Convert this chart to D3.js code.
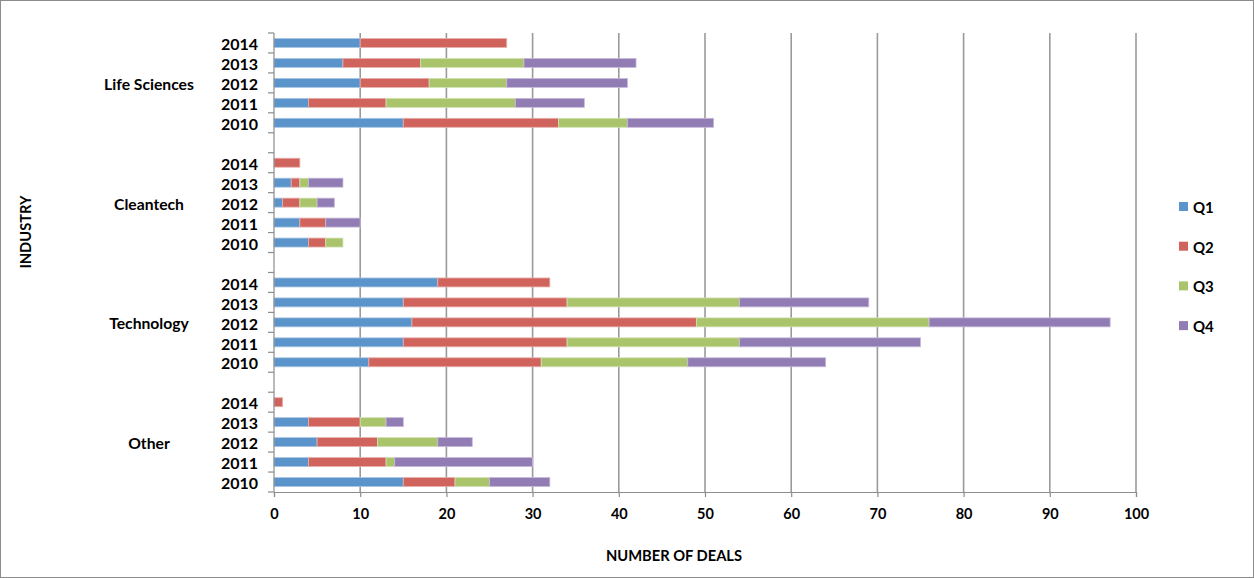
<!DOCTYPE html>
<html>
<head>
<meta charset="utf-8">
<script src="https://cdn.jsdelivr.net/npm/d3@7"></script>
<style>
  html, body { margin: 0; padding: 0; background: #fff; }
  svg { display: block; font-family: Lato, "Open Sans", sans-serif; }
</style>
</head>
<body>
<svg id="chart" width="1254" height="578"></svg>
<script>
// Industries, top to bottom, and the years listed within each group
const industries = ["Life Sciences", "Cleantech", "Technology", "Other"];
const years = ["2014", "2013", "2012", "2011", "2010"];
const quarters = ["Q1", "Q2", "Q3", "Q4"];
const xTicks = [0, 10, 20, 30, 40, 50, 60, 70, 80, 90, 100];

// Deals per quarter; each row follows the years order above
const q1 = [
  [10, 8, 10, 4, 15],
  [0, 2, 1, 3, 4],
  [19, 15, 16, 15, 11],
  [0, 4, 5, 4, 15]
];
const q2 = [
  [17, 9, 8, 9, 18],
  [3, 1, 2, 3, 2],
  [13, 19, 33, 19, 20],
  [1, 6, 7, 9, 6]
];
const q3 = [
  [0, 12, 9, 15, 8],
  [0, 1, 2, 0, 2],
  [0, 20, 27, 20, 17],
  [0, 3, 7, 1, 4]
];
const q4 = [
  [0, 13, 14, 8, 10],
  [0, 4, 2, 4, 0],
  [0, 15, 21, 21, 16],
  [0, 2, 4, 16, 7]
];

const colors = ["#5b94ca", "#d0645d", "#a9c46b", "#917cb3"];
const strokes = ["#a9c6e4", "#e8b0ad", "#d3e2b4", "#c6badb"];

const svg = d3.select("#chart");
const W = 1254, H = 578;
const plotLeft = 274, plotRight = 1136, plotTop = 33, plotBottom = 492;

// Outer frame
svg.append("rect")
  .attr("x", 0.5).attr("y", 0.5)
  .attr("width", W - 1).attr("height", H - 1)
  .attr("fill", "#fff").attr("stroke", "#8c8c8c").attr("stroke-width", 1);

// Build the row list: five years per industry, with a spacer between groups
const rows = [];
industries.forEach((ind, gi) => {
  years.forEach((yr, yi) => {
    rows.push({ key: ind + "|" + yr, industry: ind, year: yr, gi, yi,
      vals: [q1[gi][yi], q2[gi][yi], q3[gi][yi], q4[gi][yi]] });
  });
  if (gi < industries.length - 1) rows.push({ key: "gap" + gi, gap: true });
});

const x = d3.scaleLinear().domain([0, 100]).range([plotLeft, plotRight]);
const y = d3.scaleBand()
  .domain(rows.map(r => r.key))
  .range([plotTop, plotBottom])
  .paddingInner(0.55)
  .paddingOuter(0.275);
const step = y.step();

// Vertical gridlines
svg.append("g")
  .selectAll("line")
  .data(xTicks.filter(t => t > 0))
  .join("line")
  .attr("x1", d => x(d)).attr("x2", d => x(d))
  .attr("y1", plotTop).attr("y2", plotBottom)
  .attr("stroke", "#9a9a9a").attr("stroke-width", 1.6);

// Stacked bars
const stackRows = rows.filter(r => !r.gap);
const barG = svg.append("g");
stackRows.forEach(r => {
  let acc = 0;
  r.vals.forEach((v, qi) => {
    if (v > 0) {
      barG.append("rect")
        .attr("x", x(acc))
        .attr("y", y(r.key))
        .attr("width", x(acc + v) - x(acc))
        .attr("height", y.bandwidth())
        .attr("fill", colors[qi])
        .attr("stroke", strokes[qi])
        .attr("stroke-width", 0.8);
    }
    acc += v;
  });
});

// Y axis line and tick marks at every row boundary
svg.append("line")
  .attr("x1", plotLeft).attr("x2", plotLeft)
  .attr("y1", plotTop).attr("y2", plotBottom)
  .attr("stroke", "#8c8c8c").attr("stroke-width", 1.2);
svg.append("g")
  .selectAll("line")
  .data(d3.range(rows.length + 1))
  .join("line")
  .attr("x1", plotLeft - 6).attr("x2", plotLeft)
  .attr("y1", i => plotTop + i * step).attr("y2", i => plotTop + i * step)
  .attr("stroke", "#8c8c8c").attr("stroke-width", 1.2);

// X axis
const xAxis = d3.axisBottom(x).tickValues(xTicks).tickSize(5).tickPadding(12);
const gx = svg.append("g").attr("transform", `translate(0,${plotBottom})`).call(xAxis);
gx.select(".domain").attr("stroke", "#8c8c8c").attr("stroke-width", 1.2);
gx.selectAll(".tick line").attr("stroke", "#8c8c8c").attr("stroke-width", 1.2);
gx.selectAll(".tick text")
  .attr("font-family", "Lato, sans-serif")
  .attr("font-size", 14.5).attr("font-weight", 700).attr("fill", "#000");

// Year labels
svg.append("g")
  .selectAll("text")
  .data(stackRows)
  .join("text")
  .attr("x", 258)
  .attr("y", r => y(r.key) + y.bandwidth() / 2)
  .attr("dy", "0.45em")
  .attr("text-anchor", "end")
  .attr("font-size", 16).attr("font-weight", 700)
  .text(r => r.year);

// Industry labels, centred on the middle year of each group
svg.append("g")
  .selectAll("text")
  .data(industries)
  .join("text")
  .attr("x", 149)
  .attr("y", d => y(d + "|" + years[2]) + y.bandwidth() / 2)
  .attr("dy", "0.45em")
  .attr("text-anchor", "middle")
  .attr("font-size", 15.7).attr("font-weight", 700)
  .text(d => d);

// Axis titles
svg.append("text")
  .attr("x", 674).attr("y", 561)
  .attr("text-anchor", "middle")
  .attr("font-size", 14.7).attr("font-weight", 700)
  .text("NUMBER OF DEALS");
svg.append("text")
  .attr("transform", "translate(31,232) rotate(-90)")
  .attr("text-anchor", "middle")
  .attr("font-size", 14.7).attr("font-weight", 700)
  .text("INDUSTRY");

// Legend
const legend = svg.append("g");
quarters.forEach((q, i) => {
  const cy = 207 + i * 39.7;
  legend.append("rect")
    .attr("x", 1179).attr("y", cy - 5)
    .attr("width", 9).attr("height", 9)
    .attr("fill", colors[i]);
  legend.append("text")
    .attr("x", 1193).attr("y", cy)
    .attr("dy", "0.4em")
    .attr("font-size", 15).attr("font-weight", 700)
    .text(q);
});
</script>
</body>
</html>
